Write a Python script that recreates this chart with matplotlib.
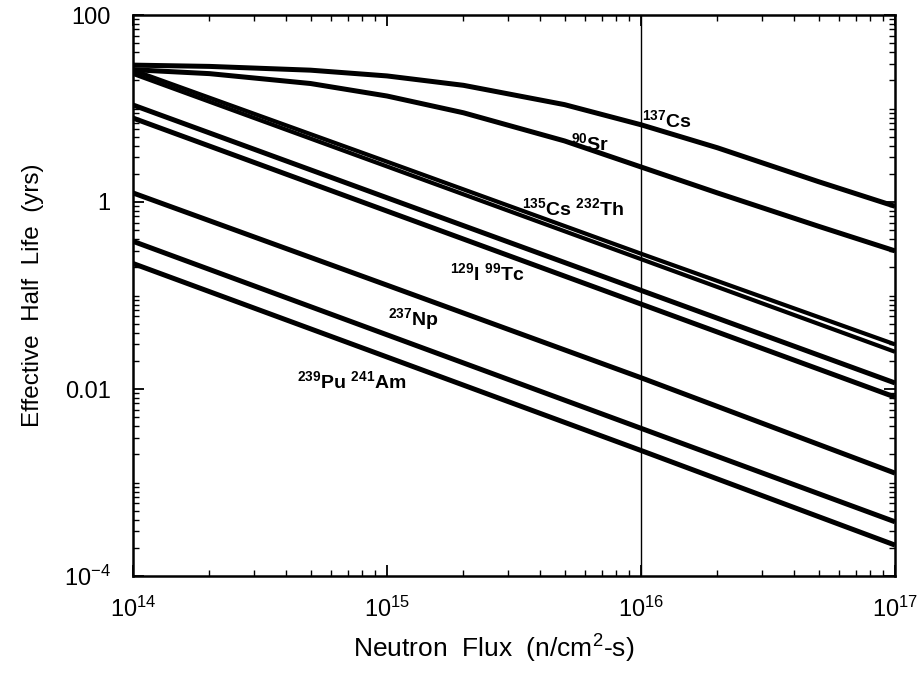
import matplotlib
matplotlib.use("Agg")
import matplotlib.pyplot as plt
from matplotlib.ticker import LogLocator, NullFormatter, FixedLocator, FixedFormatter

plt.rcParams['font.family'] = ['Liberation Sans', 'DejaVu Sans']
plt.rcParams['mathtext.fontset'] = 'custom'
plt.rcParams['mathtext.rm'] = 'Liberation Sans'
plt.rcParams['mathtext.bf'] = 'Liberation Sans:bold'
plt.rcParams['mathtext.it'] = 'Liberation Sans:italic'

# ---- data ----
flux_curved = [1e14, 2e14, 5e14, 1e15, 2e15, 5e15, 1e16, 2e16, 5e16, 1e17]
cs137 = [29.1, 28.2, 25.7, 22.3, 17.7, 11.0, 6.7, 3.8, 1.65, 0.90]
sr90 = [26.0, 23.6, 18.5, 13.6, 9.0, 4.5, 2.37, 1.25, 0.55, 0.30]

flux_dec = [1e14, 1e15, 1e16, 1e17]
cs135 = [25.7, 2.7, 0.28, 0.030]
th232 = [23.5, 2.4, 0.245, 0.025]
i129 = [10.9, 1.11, 0.1135, 0.0116]
tc99 = [7.9, 0.80, 0.081, 0.0082]
np237 = [1.25, 0.129, 0.0132, 0.00126]
pu239 = [0.38, 0.038, 0.0038, 0.00038]
am241 = [0.22, 0.022, 0.0022, 0.000214]

ref_flux = 1e16

labels = [
    (r'$\mathbf{^{137}Cs}$', 1.01e16, 6.4),
    (r'$\mathbf{^{90}Sr}$', 5.3e15, 3.6),
    (r'$\mathbf{^{135}Cs\ ^{232}Th}$', 3.4e15, 0.73),
    (r'$\mathbf{^{129}I\ ^{99}Tc}$', 1.77e15, 0.147),
    (r'$\mathbf{^{237}Np}$', 1.01e15, 0.0483),
    (r'$\mathbf{^{239}Pu\ ^{241}Am}$', 4.43e14, 0.0103),
]

xticks = [1e14, 1e15, 1e16, 1e17]
xticklabels = [r'$\mathit{10^{14}}$', r'$\mathit{10^{15}}$', r'$\mathit{10^{16}}$', r'$\mathit{10^{17}}$']
yticks = [1e-4, 1e-2, 1, 100]
yticklabels = [r'$\mathit{10^{-4}}$', '0.01', '1', '100']

# ---- figure ----
fig = plt.figure(figsize=(9.23, 6.8), dpi=100)
ax = fig.add_axes([133/923, 1-576/680, (895-133)/923, (576-15)/680])

lw = 3.6
for ys in (cs137, sr90):
    ax.plot(flux_curved, ys, color='black', lw=lw, solid_capstyle='butt')
for ys, w in ((cs135, 3.0), (th232, 3.0), (i129, lw), (tc99, lw),
              (np237, lw), (pu239, lw), (am241, lw)):
    ax.plot(flux_dec, ys, color='black', lw=w, solid_capstyle='butt')

ax.axvline(ref_flux, color='black', lw=1.0)

ax.set_xscale('log')
ax.set_yscale('log')
ax.set_xlim(1e14, 1e17)
ax.set_ylim(1e-4, 100)

for txt, x, y in labels:
    ax.text(x, y, txt, fontsize=14, ha='left', va='baseline', color='black')

ax.xaxis.set_major_locator(FixedLocator(xticks))
ax.xaxis.set_major_formatter(FixedFormatter(xticklabels))
ax.xaxis.set_minor_locator(LogLocator(base=10, subs=range(2, 10), numticks=50))
ax.xaxis.set_minor_formatter(NullFormatter())

ax.set_yticks(yticks, minor=False)
ax.set_yticklabels(yticklabels)
minor_y = []
for e in range(-4, 2):
    for s in range(1, 10):
        if s == 1 and (e % 2 == 0):
            continue
        minor_y.append(s * 10.0**e)
ax.yaxis.set_minor_locator(FixedLocator(minor_y))
ax.yaxis.set_minor_formatter(NullFormatter())

ax.tick_params(which='both', direction='in', top=True, right=True, color='black')
ax.tick_params(which='major', length=8, width=1.3, labelsize=17)
ax.tick_params(which='minor', length=4, width=1.0)
ax.tick_params(axis='x', which='major', pad=15)
ax.tick_params(axis='y', which='major', pad=16)

for sp in ax.spines.values():
    sp.set_linewidth(1.8)

ax.set_xlabel(r'Neutron  Flux  (n/cm$^{2}$-s)', fontsize=19, labelpad=8)
ax.xaxis.label.set_position(((494 - 133) / 762, 0))
ax.set_ylabel('Effective  Half  Life  (yrs)', fontsize=17.5, labelpad=14)

fig.savefig('out.png', dpi=100)
